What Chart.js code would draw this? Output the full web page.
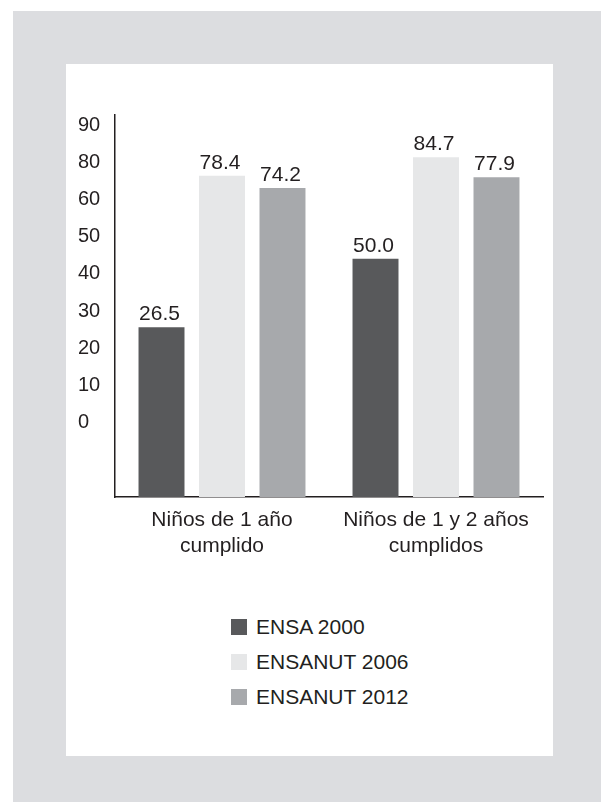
<!DOCTYPE html>
<html>
<head>
<meta charset="utf-8">
<script src="https://cdn.jsdelivr.net/npm/chart.js@4/dist/chart.umd.min.js"></script>
<style>
    body { margin: 0; background: #ffffff; font-family: "Liberation Sans", Arial, Helvetica, sans-serif; }
    #frame { position: absolute; left: 13px; top: 11px; right: 0; bottom: 0; background: #dcdde0; }
    #panel { position: absolute; left: 66px; top: 64px; width: 487px; height: 692px; background: #ffffff; }
    #chartBox { position: absolute; left: 0; top: 0; width: 487px; height: 540px; }
    #legend { position: absolute; left: 165px; top: 545px; }
    .legend-item { display: flex; align-items: center; height: 35px; font-size: 21px; color: #231f20; }
    .legend-swatch { width: 16px; height: 16px; margin-right: 9px; }
</style>
</head>
<body>
<div id="frame"></div>
<div id="panel">
    <div id="chartBox"><canvas id="barChart" width="487" height="540"></canvas></div>
    <div id="legend"></div>
</div>
<script>
const categories = [['Niños de 1 año', 'cumplido'], ['Niños de 1 y 2 años', 'cumplidos']];
const seriesNames = ['ENSA 2000', 'ENSANUT 2006', 'ENSANUT 2012'];
const ensa2000 = [26.5, 50.0];
const ensanut2006 = [78.4, 84.7];
const ensanut2012 = [74.2, 77.9];
// tick labels as printed, bottom to top (70 is missing in the original)
const yTickLabels = ['0', '10', '20', '30', '40', '50', '60', '80', '90'];

const seriesColors = ['#58595b', '#e6e7e8', '#a7a9ac'];
const textColor = '#231f20';
const barMin = -31.6;

const valueLabels = {
    id: 'valueLabels',
    afterDatasetsDraw(chart) {
        const ctx = chart.ctx;
        ctx.save();
        ctx.font = '21px "Liberation Sans", Arial, sans-serif';
        ctx.fillStyle = textColor;
        ctx.textAlign = 'center';
        ctx.textBaseline = 'alphabetic';
        chart.data.datasets.forEach((ds, i) => {
            chart.getDatasetMeta(i).data.forEach((bar, j) => {
                ctx.fillText(ds.data[j].toFixed(1), bar.x - 2, bar.y - 7);
            });
        });
        ctx.restore();
    }
};

const ctx = document.getElementById('barChart').getContext('2d');
new Chart(ctx, {
    type: 'bar',
    data: {
        labels: categories,
        datasets: [ensa2000, ensanut2006, ensanut2012].map((d, i) => ({
            label: seriesNames[i],
            data: d,
            backgroundColor: seriesColors[i],
            base: barMin,
            yAxisID: 'y',
            categoryPercentage: 0.848,
            barPercentage: 0.76
        }))
    },
    options: {
        responsive: false,
        animation: false,
        layout: { padding: { left: 12, top: 51, right: 10, bottom: 27 } },
        plugins: { legend: { display: false }, tooltip: { enabled: false } },
        scales: {
            x: {
                grid: { display: false, drawTicks: false },
                border: { color: textColor, width: 1.5 },
                ticks: { color: textColor, font: { size: 21, family: '"Liberation Sans", Arial, sans-serif', lineHeight: 1.2 }, padding: 11, maxRotation: 0, autoSkip: false },
                afterFit: (scale) => { scale.height = 80; }
            },
            y: {
                display: false,
                min: barMin,
                max: 99.2
            },
            yLabels: {
                position: 'left',
                min: -2,
                max: 8.27,
                grid: { display: false, drawTicks: false },
                border: { color: textColor, width: 1.5 },
                afterBuildTicks: (scale) => { scale.ticks = yTickLabels.map((_, i) => ({ value: i })); },
                ticks: {
                    color: textColor,
                    crossAlign: 'far',
                    font: { size: 20, family: '"Liberation Sans", Arial, sans-serif' },
                    callback: (value) => yTickLabels[value]
                },
                afterFit: (scale) => { scale.width = 37; }
            }
        }
    },
    plugins: [valueLabels]
});

const legend = document.getElementById('legend');
seriesNames.forEach((name, i) => {
    const item = document.createElement('div');
    item.className = 'legend-item';
    item.innerHTML = `<span class="legend-swatch" style="background:${seriesColors[i]}"></span>${name}`;
    legend.appendChild(item);
});
</script>
</body>
</html>
